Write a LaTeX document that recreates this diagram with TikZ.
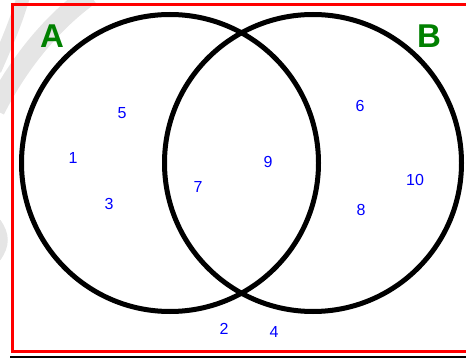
\documentclass[tikz,border=0pt]{standalone}
\usepackage{fontspec}
\setmainfont{Liberation Sans}
\begin{document}
\begin{tikzpicture}[x=1pt,y=-1pt,
  setlabel/.style={text={rgb,255:red,0;green,128;blue,0}, font=\bfseries\fontsize{33}{33}\selectfont, inner sep=0pt},
  num/.style={text=blue, font=\fontsize{16}{16}\selectfont, inner sep=0pt},
  setcircle/.style={circle, draw=black, line width=5pt, minimum size=297pt, inner sep=0pt},
  swirl/.style={draw=black!10, line cap=butt}]
\useasboundingbox (0,0) rectangle (466,358);
\begin{scope}
  \clip (0,0) rectangle (466,358);
  \draw[swirl, line width=13pt] (24,-5) .. controls (15,25) and (6,45) .. (-5,70);
  \draw[swirl, line width=20pt] (90,-5) .. controls (55,20) and (20,60) .. (-5,110);
  \draw[swirl, line width=8pt] (-3,222) .. controls (6,235) and (6,245) .. (-3,258);
  \draw[draw=red, line width=3pt] (12,5) rectangle (478,351);
  \draw[line width=1.3pt] (10,357) -- (470,357);
\end{scope}
\node[setcircle] (A) at (170,163) {};
\node[setcircle] (B) at (313,163) {};
\node[setlabel] (la) at (52,36) {A};
\node[setlabel] (lb) at (429,36) {B};
\node[num] (n5) at (122,113) {5};
\node[num] (n1) at (73,158) {1};
\node[num] (n3) at (109,204) {3};
\node[num] (n7) at (198,187) {7};
\node[num] (n9) at (268,162) {9};
\node[num] (n6) at (360,106) {6};
\node[num] (n10) at (415,180) {10};
\node[num] (n8) at (361,210) {8};
\node[num] (n2) at (224,329) {2};
\node[num] (n4) at (274,332) {4};
\end{tikzpicture}
\end{document}
